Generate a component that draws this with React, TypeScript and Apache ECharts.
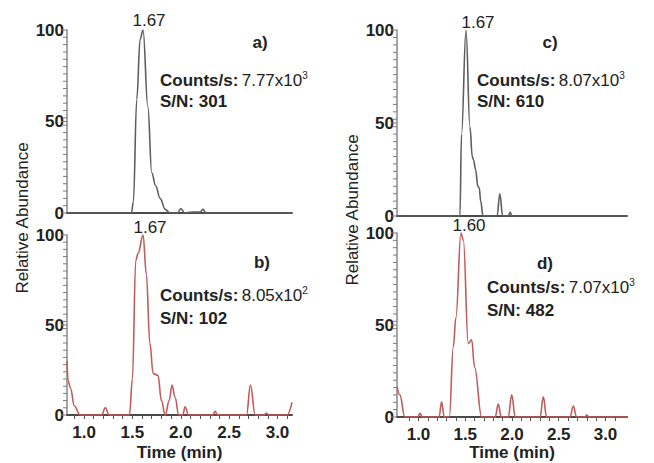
import React, { useEffect, useRef } from "react";
import * as echarts from "echarts";

// ---- data ----
const timeA = [0.824, 1.49, 1.51, 1.545, 1.58, 1.61, 1.66, 1.70, 1.74, 1.786, 1.84, 1.89, 1.97, 2.0, 2.04, 2.12, 2.2, 2.23, 2.26, 3.15];
const valA = [0, 0, 6, 62, 95, 100, 58, 22, 15, 8, 2, 0, 0, 2.5, 0, 0.5, 0.5, 2, 0, 0];

const timeB = [0.824, 0.835, 0.86, 0.90, 0.96, 1.18, 1.22, 1.26, 1.47, 1.50, 1.535, 1.56, 1.61, 1.645, 1.68, 1.715, 1.765, 1.80, 1.84, 1.88, 1.91, 1.94, 1.98, 2.02, 2.045, 2.08, 2.33, 2.355, 2.38, 2.68, 2.72, 2.77, 2.86, 2.886, 2.91, 3.10, 3.15];
const valB = [30, 19, 15, 5, 0, 0, 4, 0, 0, 20, 86, 90, 100, 78, 40, 23, 22, 8, 0, 8, 16.7, 10, 0, 0, 4.6, 0, 0, 2, 0, 0, 16.7, 0, 0, 1, 0, 0, 7];

const timeC = [0.77, 1.443, 1.46, 1.508, 1.55, 1.575, 1.59, 1.61, 1.635, 1.65, 1.665, 1.69, 1.84, 1.87, 1.90, 1.96, 1.98, 2.0, 3.23];
const valC = [0, 0, 44, 100, 48, 32, 30, 25, 16, 15, 8, 0, 0, 12, 0, 0, 2, 0, 0];

const timeD = [0.77, 0.80, 0.854, 0.99, 1.015, 1.04, 1.22, 1.247, 1.275, 1.33, 1.372, 1.40, 1.454, 1.48, 1.532, 1.568, 1.60, 1.675, 1.82, 1.853, 1.885, 1.96, 1.997, 2.035, 2.30, 2.335, 2.37, 2.62, 2.656, 2.69, 2.78, 2.80, 2.82, 3.23];
const valD = [16.5, 12, 0, 0, 2, 0, 0, 8.3, 0, 0, 38, 54, 100, 96, 40, 42, 27, 0, 0, 7, 0, 0, 12, 0, 0, 11, 0, 0, 6, 0, 0, 1, 0, 0];

const yTicks = [0, 50, 100];
const yMinorTicks = [0, 4, 8, 12, 16, 20, 24, 28, 32, 36, 40, 44, 48, 50, 52, 56, 60, 64, 68, 72, 76, 80, 84, 88, 92, 96, 100];
const xLabelTicks = [1.0, 1.5, 2.0, 2.5, 3.0];
const xMinorTicks = [0.9, 1.0, 1.1, 1.2, 1.3, 1.4, 1.5, 1.6, 1.7, 1.8, 1.9, 2.0, 2.1, 2.2, 2.3, 2.4, 2.5, 2.6, 2.7, 2.8, 2.9, 3.0, 3.1];

const panelLetters = ["a)", "b)", "c)", "d)"];
const peakLabels = ["1.67", "1.67", "1.67", "1.60"];
const countsMant = ["7.77x10", "8.05x10", "8.07x10", "7.07x10"];
const countsExp = ["3", "2", "3", "3"];
const snValues = ["301", "102", "610", "482"];

const GRAY = "#5e5e5e";
const RED = "#c25b5b";

function pairs(t: number[], v: number[]) {
  return t.map((x, i) => [x, v[i]]);
}

export default function App() {
  const ref = useRef<HTMLDivElement>(null);
  useEffect(() => {
    if (!ref.current) return;
    const chart = echarts.init(ref.current, undefined, { renderer: "svg" });
    const grids = [
      { left: 67, top: 30, width: 225, height: 183 },
      { left: 67, top: 235, width: 225, height: 180 },
      { left: 397, top: 30, width: 230, height: 186 },
      { left: 397, top: 233, width: 230, height: 184 },
    ].map((g) => ({ ...g, outerBoundsMode: "none", containLabel: false }));
    const ranges = [
      [0.824, 3.15],
      [0.824, 3.15],
      [0.77, 3.23],
      [0.77, 3.23],
    ];
    const isBottom = [false, true, false, true];
    const xAxis = ranges.map((r, i) => ({
      type: "value",
      gridIndex: i,
      min: r[0],
      max: r[1],
      splitLine: { show: false },
      axisLine: { show: true, onZero: false, lineStyle: { color: "#4a4a4a", width: 2 } },
      axisTick: isBottom[i]
        ? { show: true, customValues: xMinorTicks, length: 4, lineStyle: { color: "#555" } }
        : { show: false },
      axisLabel: isBottom[i]
        ? {
            show: true,
            customValues: xLabelTicks,
            formatter: (v: number) => v.toFixed(1),
            fontSize: 17,
            fontWeight: "bold",
            color: "#222",
            fontFamily: "Liberation Sans",
            margin: 9,
          }
        : { show: false },
      name: isBottom[i] ? "Time (min)" : "",
      nameLocation: "middle",
      nameGap: i === 1 ? 29 : 27,
      nameTextStyle: { fontSize: 17, fontWeight: "bold", color: "#222", fontFamily: "Liberation Sans" },
    }));
    const yAxis = [0, 1, 2, 3].map((i) => ({
      type: "value",
      gridIndex: i,
      min: 0,
      max: 100,
      interval: 50,
      splitLine: { show: false },
      axisLine: { show: true, onZero: false, lineStyle: { color: "#8a8a8a", width: 1.5 } },
      axisTick: { show: false },
      axisLabel: {
        fontSize: 17,
        fontWeight: "bold",
        color: "#222",
        fontFamily: "Liberation Sans",
        margin: 3,
        formatter: (v: number) => (yTicks.includes(v) ? String(v) : ""),
      },
    }));
    const dataSets = [pairs(timeA, valA), pairs(timeB, valB), pairs(timeC, valC), pairs(timeD, valD)];
    const colors = [GRAY, RED, GRAY, RED];
    const series: any[] = dataSets.map((d, i) => ({
      type: "line",
      xAxisIndex: i,
      yAxisIndex: i,
      data: d,
      showSymbol: false,
      smooth: 0.4,
      smoothMonotone: "x",
      lineStyle: { color: colors[i], width: 1.6 },
      z: 3,
    }));
    // y-axis tick marks drawn through the axis scale
    ranges.forEach((r, i) => {
      series.push({
        type: "custom",
        xAxisIndex: i,
        yAxisIndex: i,
        clip: false,
        silent: true,
        z: 2,
        data: yMinorTicks.map((v) => [r[0], v]),
        renderItem: (params: any, api: any) => {
          const v = api.value(1);
          const p = api.coord([api.value(0), v]);
          const len = v % 50 === 0 ? 6 : 4;
          return {
            type: "line",
            shape: { x1: p[0] - len, y1: p[1], x2: p[0], y2: p[1] },
            style: { stroke: "#7a7a7a", lineWidth: 1 },
          };
        },
      });
    });

    const letterPos = [
      [260, 42],
      [262, 262],
      [550, 42],
      [545, 263],
    ];
    const peakPos = [
      [149, 20],
      [150, 227],
      [478, 22],
      [469, 225],
    ];
    const countsPos = [
      [160, 80, 101],
      [160, 295, 318],
      [477, 80, 101],
      [487, 287, 310],
    ];
    const graphic: any[] = [];
    for (let i = 0; i < 4; i++) {
      graphic.push({
        type: "text",
        x: letterPos[i][0],
        y: letterPos[i][1],
        style: {
          text: panelLetters[i],
          fontSize: 17,
          fontWeight: "bold",
          fontFamily: "Liberation Sans",
          fill: "#222",
          align: "center",
          verticalAlign: "middle",
        },
      });
      graphic.push({
        type: "text",
        x: peakPos[i][0],
        y: peakPos[i][1],
        style: {
          text: peakLabels[i],
          fontSize: 17,
          fontFamily: "Liberation Sans",
          fill: "#222",
          align: "center",
          verticalAlign: "middle",
        },
      });
      graphic.push({
        type: "text",
        x: countsPos[i][0],
        y: countsPos[i][1],
        style: {
          text: `{b|Counts/s:} {n|${countsMant[i]}}{s|${countsExp[i]}}`,
          verticalAlign: "middle",
          fill: "#222",
          rich: {
            b: { fontSize: 17, fontWeight: "bold", fontFamily: "Liberation Sans", fill: "#222" },
            n: { fontSize: 17, fontFamily: "Liberation Sans", fill: "#222" },
            s: { fontSize: 10, fontFamily: "Liberation Sans", fill: "#222", verticalAlign: "top", padding: [0, 0, 10, 0] },
          },
        },
      });
      graphic.push({
        type: "text",
        x: countsPos[i][0],
        y: countsPos[i][2],
        style: {
          text: `S/N: ${snValues[i]}`,
          fontSize: 17,
          fontWeight: "bold",
          fontFamily: "Liberation Sans",
          fill: "#222",
          verticalAlign: "middle",
        },
      });
    }
    graphic.push({
      type: "text",
      x: 22,
      y: 218,
      rotation: Math.PI / 2,
      style: {
        text: "Relative Abundance",
        fontSize: 17,
        fontFamily: "Liberation Sans",
        fill: "#222",
        align: "center",
        verticalAlign: "middle",
      },
    });
    graphic.push({
      type: "text",
      x: 352,
      y: 210,
      rotation: Math.PI / 2,
      style: {
        text: "Relative Abundance",
        fontSize: 17,
        fontFamily: "Liberation Sans",
        fill: "#222",
        align: "center",
        verticalAlign: "middle",
      },
    });

    chart.setOption({
      animation: false,
      backgroundColor: "#ffffff",
      grid: grids,
      xAxis,
      yAxis,
      series,
      graphic,
    });
    return () => chart.dispose();
  }, []);
  return (
    <div
      ref={ref}
      style={{ position: "absolute", left: 0, top: 0, width: 654, height: 463 }}
    />
  );
}
